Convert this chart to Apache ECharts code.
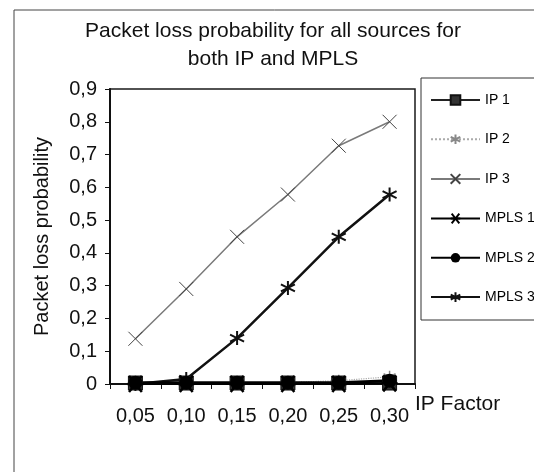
<!DOCTYPE html>
<html>
<head>
<meta charset="utf-8">
<script src="https://cdn.jsdelivr.net/npm/echarts@6/dist/echarts.min.js"></script>
<style>
  html, body { margin: 0; padding: 0; background: #fff; }
  #chart { width: 534px; height: 472px; }
</style>
</head>
<body>
<div id="chart"></div>
<script>
// categories on the x axis (IP factor)
var categories = ['0,05', '0,10', '0,15', '0,20', '0,25', '0,30'];
// y tick labels, 0 .. 0.9
var yTicks = ['0', '0,1', '0,2', '0,3', '0,4', '0,5', '0,6', '0,7', '0,8', '0,9'];

// packet loss values
var ip1 = [0.003, 0.003, 0.003, 0.003, 0.003, 0.003];
var ip2 = [0.002, 0.002, 0.003, 0.005, 0.010, 0.022];
var ip3 = [0.138, 0.290, 0.449, 0.578, 0.727, 0.800];
var mpls1 = [0, 0, 0, 0, 0, 0.002];
var mpls2 = [0.004, 0.004, 0.004, 0.004, 0.004, 0.010];
var mpls3 = [0, 0.015, 0.140, 0.293, 0.449, 0.578];

var FONT = 'Liberation Sans';

var SYM_X = 'path://M0,0L10,10M10,0L0,10';
var SYM_AST6 = 'path://M5,0L5,10M1,2.5L9,7.5M1,7.5L9,2.5';
var SYM_AST = 'path://M1,1L9,9M9,1L1,9M0,5L10,5';
var SYM_STAR = 'path://M5,0L5,10M0,2.5L10,7.5M0,7.5L10,2.5';

function lineSeries(name, data, opt) {
  return {
    name: name,
    type: 'line',
    data: data,
    symbol: opt.symbol,
    symbolSize: opt.size,
    showAllSymbol: true,
    lineStyle: opt.line,
    itemStyle: opt.item,
    emphasis: { disabled: true },
    animation: false
  };
}

var chart = echarts.init(document.getElementById('chart'), null, { renderer: 'canvas' });

var option = {
  backgroundColor: '#fff',
  textStyle: { fontFamily: FONT, color: '#111' },
  title: {
    text: 'Packet loss probability for all sources for\nboth IP and MPLS',
    left: 268,
    textAlign: 'center',
    top: 12,
    textStyle: { fontFamily: FONT, fontSize: 21, fontWeight: 'normal', color: '#111', lineHeight: 28 }
  },
  grid: {
    left: 110, right: 119, top: 89, bottom: 88,
    show: true, borderColor: '#1a1a1a', borderWidth: 1.5,
    backgroundColor: '#fff'
  },
  legend: {
    orient: 'vertical',
    left: 425, top: 88,
    itemWidth: 49, itemHeight: 12, itemGap: 25,
    textStyle: { fontFamily: FONT, fontSize: 14, color: '#000' },
    data: ['IP 1', 'IP 2', 'IP 3', 'MPLS 1', 'MPLS 2', 'MPLS 3']
  },
  xAxis: {
    type: 'category',
    data: categories,
    boundaryGap: true,
    name: 'IP Factor',
    nameLocation: 'end',
    nameGap: -3,
    nameTextStyle: { fontFamily: FONT, fontSize: 21, color: '#111', verticalAlign: 'top', padding: [10, 0, 0, 0] },
    axisLine: { lineStyle: { color: '#111', width: 2 } },
    axisTick: { show: true, length: 5, lineStyle: { color: '#111', width: 1 } },
    axisLabel: { fontFamily: FONT, fontSize: 20, color: '#111', margin: 22 },
    splitLine: { show: false }
  },
  yAxis: {
    type: 'value',
    min: 0, max: 0.9, interval: 0.1,
    name: 'Packet loss probability',
    nameLocation: 'middle',
    nameGap: 58,
    nameTextStyle: { fontFamily: FONT, fontSize: 20, color: '#111' },
    axisLine: { show: true, lineStyle: { color: '#111', width: 2 } },
    axisTick: { show: true, length: 5, lineStyle: { color: '#111', width: 1 } },
    axisLabel: {
      fontFamily: FONT, fontSize: 20, color: '#111', margin: 13,
      formatter: function (v) { return yTicks[Math.round(v * 10)]; }
    },
    splitLine: { show: false }
  },
  graphic: [
    { type: 'rect', shape: { x: 14, y: 10, width: 600, height: 600 },
      style: { fill: 'none', stroke: '#444', lineWidth: 1 }, silent: true, z: 0 },
    { type: 'rect', shape: { x: 421, y: 78, width: 200, height: 242 },
      style: { fill: 'none', stroke: '#333', lineWidth: 1 }, silent: true, z: 0 }
  ],
  series: [
    lineSeries('IP 3', ip3, {
      symbol: SYM_X, size: 14,
      line: { color: '#7a7a7a', width: 1.5 },
      item: { color: 'none', borderColor: '#444', borderWidth: 1 }
    }),
    lineSeries('MPLS 3', mpls3, {
      symbol: SYM_AST6, size: 14,
      line: { color: '#111', width: 2.5 },
      item: { color: 'none', borderColor: '#111', borderWidth: 2 }
    }),
    lineSeries('IP 2', ip2, {
      symbol: SYM_STAR, size: 12,
      line: { color: '#aaa', width: 1.2, type: 'dotted' },
      item: { color: 'none', borderColor: '#888', borderWidth: 1.5 }
    }),
    lineSeries('IP 1', ip1, {
      symbol: 'rect', size: 14,
      line: { color: '#222', width: 1.5 },
      item: { color: '#333', borderColor: '#111', borderWidth: 1 }
    }),
    lineSeries('MPLS 1', mpls1, {
      symbol: SYM_AST, size: 16,
      line: { color: '#000', width: 2 },
      item: { color: 'none', borderColor: '#000', borderWidth: 2.5 }
    }),
    lineSeries('MPLS 2', mpls2, {
      symbol: 'circle', size: 14,
      line: { color: '#000', width: 3 },
      item: { color: '#000' }
    })
  ]
};

chart.setOption(option);
</script>
</body>
</html>
